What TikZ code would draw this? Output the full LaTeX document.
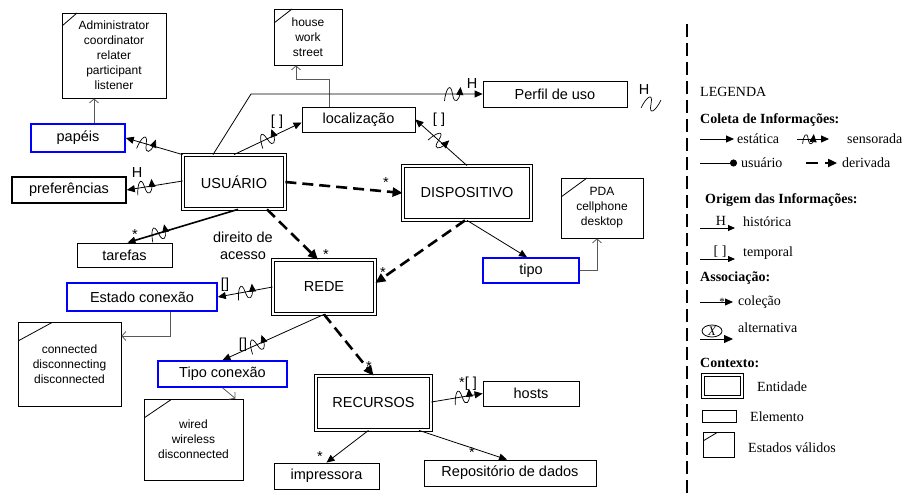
\documentclass[tikz,border=0pt]{standalone}
\usepackage{fontspec}
\setmainfont{Liberation Serif}
\setsansfont{Liberation Sans}
\usetikzlibrary{arrows.meta}
\tikzset{
semithick, % thin connectors everywhere
>={Triangle[length=8pt,width=7pt]},
my font/.style={font=\sffamily\fontsize{14.5}{17}\selectfont},
my small/.style={font=\sffamily\fontsize{12}{15}\selectfont},
elem/.style={draw,my font,inner sep=0pt,line width=0.8pt},
hi/.style={draw=blue,line width=1.6pt},
heavy/.style={line width=1.6pt},
entity/.style={draw,double,double distance=2pt,line width=0.8pt,my font,inner sep=0pt},
state/.style={draw,my small,align=center,inner sep=0pt,line width=0.8pt},
tag/.style 2 args={path picture={\draw[line width=0.8pt]
  ([yshift=-#2]path picture bounding box.north west) --
  ([xshift=#1]path picture bounding box.north west);}},
link/.style={->,line width=0.8pt},
strong/.style={->,line width=1.6pt},
derived/.style={-{Triangle[length=10pt,width=9pt]},line width=2.6pt,dash pattern=on 11pt off 6pt},
stlink/.style={-{Straight Barb[length=4pt,width=9pt]},line width=0.8pt,black!65},
squig/.pic={\draw[line width=0.7pt] (-8,7) .. controls (-7,-4) and (-2,-13) .. (0,0)
  .. controls (2,13) and (7,4) .. (8,-7);},
lbl/.style={my font,inner sep=0pt},
leg/.style={font=\fontsize{14}{16}\selectfont,anchor=west,inner sep=0pt},
leghead/.style={leg,font=\bfseries\fontsize{14}{16}\selectfont},
}
\begin{document}
\begin{tikzpicture}[x=1pt,y=-1pt]
\useasboundingbox (0,0) rectangle (905,497);
% entities
\node[entity,minimum width=102,minimum height=54] (usuario) at (234,182) {USUÁRIO};
\node[entity,minimum width=128,minimum height=54] (disp) at (467,193) {DISPOSITIVO};
\node[entity,minimum width=102,minimum height=54] (rede) at (324,287) {REDE};
\node[entity,minimum width=115,minimum height=54] (recursos) at (373.5,403) {RECURSOS};
% elements
\node[elem,hi,minimum width=94,minimum height=28] (papeis) at (78,138) {papéis};
\node[elem,heavy,minimum width=114,minimum height=26] (prefs) at (69,190) {preferências};
\node[elem,minimum width=95,minimum height=24] (tarefas) at (124.5,255) {tarefas};
\node[elem,minimum width=113,minimum height=25] (local) at (358.5,119.5) {localização};
\node[elem,minimum width=144,minimum height=26] (perfil) at (555,94) {Perfil de uso};
\node[elem,hi,minimum width=96,minimum height=25] (tipo) at (531,270.5) {tipo};
\node[elem,hi,minimum width=150,minimum height=28] (estado) at (142,297) {Estado conexão};
\node[elem,hi,minimum width=129,minimum height=26] (tipocon) at (222.5,374) {Tipo conexão};
\node[elem,minimum width=96,minimum height=25] (hosts) at (531,393.5) {hosts};
\node[elem,minimum width=105,minimum height=26] (impr) at (326.5,476) {impressora};
\node[elem,minimum width=172,minimum height=26] (repo) at (510,473) {Repositório de dados};
% valid states
\node[state,tag={15pt}{13pt},minimum width=104,minimum height=85] (admin) at (114,55.5)
  {Administrator\\coordinator\\relater\\participant\\listener};
\node[state,tag={18pt}{14pt},minimum width=68,minimum height=56] (house) at (308,37) {house\\work\\street};
\node[state,tag={26pt}{19pt},minimum width=82,minimum height=60] (pda) at (602,208) {PDA\\cellphone\\desktop};
\node[state,tag={35pt}{19pt},minimum width=103,minimum height=84] (conn) at (69.5,364)
  {connected\\disconnecting\\disconnected};
\node[state,tag={28pt}{19pt},minimum width=99,minimum height=81] (wired) at (193.5,439.5)
  {wired\\wireless\\disconnected};
% links to valid states
\draw[stlink] ([xshift=16pt]papeis.north) -- ([xshift=16pt]papeis.north |- admin.south);
\draw[stlink] ([xshift=-29pt]local.north) -- ++(0,-27) -| ([xshift=-12pt]house.south);
\draw[stlink] (tipo.east) -| ([xshift=-5pt]pda.south);
\draw[stlink] ([xshift=28pt]estado.south) |- ([yshift=28pt]conn.east);
\draw[stlink] (tipocon.south) -- ([xshift=42pt]wired.north);
% sensed links
\coordinate (bend) at (251,94);
\draw[link] ([xshift=-21pt]usuario.north) -- (bend) -- (perfil.west) pic[pos=0.87,sloped]{squig};
\draw[link] (usuario.north west) -- (papeis.east) pic[pos=0.64,sloped]{squig};
\draw[link] ([yshift=1pt]usuario.west) -- (prefs.east) pic[pos=0.68,sloped]{squig};
\draw[strong] ([xshift=4pt]usuario.south) -- ([xshift=3pt]tarefas.north) pic[pos=0.72,sloped]{squig};
\draw[link] (usuario.north) -- ([yshift=-3pt]local.west) pic[pos=0.49,sloped]{squig};
\draw[link] (disp.north) -- (local.east) pic[pos=0.55,sloped]{squig};
\draw[link] (rede.west) -- (estado.east) pic[pos=0.5,sloped]{squig};
\draw[link] (rede.south) -- (tipocon.north) pic[pos=0.66,sloped]{squig};
\draw[link] ([yshift=1pt]recursos.east) -- (hosts.west) pic[pos=0.6,sloped]{squig};
% static links
\draw[link] (disp.south) -- ([xshift=-4pt]tipo.north);
\draw[link] ([xshift=-5pt]recursos.south) -- (impr.north);
\draw[link] ([xshift=45.5pt]recursos.south) -- ([xshift=-3pt]repo.north);
% derived links
\draw[derived] (usuario.east) -- (disp.west);
\draw[derived] ([xshift=33pt]usuario.south) -- ([xshift=-6pt]rede.north);
\draw[derived] ([xshift=-2pt]disp.south) -- ([yshift=4pt]rede.east);
\draw[derived] (rede.south) -- (recursos.north);
% labels
\node[lbl] (hpref) at (137,173) {H};
\node[lbl] (starta) at (135,235) {*};
\node[lbl] (tloc) at (277,122) {[ ]};
\node[lbl] (hperf) at (472,84) {H};
\node[lbl] (tdisp) at (439,120) {[ ]};
\node[lbl] (stdisp) at (386,183) {*};
\node[lbl] (strede) at (326,255) {*};
\node[lbl] (strede2) at (383,273) {*};
\node[lbl] (testado) at (225,285) {[]};
\node[lbl] (ttipo) at (243,345) {[]};
\node[lbl] (strec) at (369,367) {*};
\node[lbl] (thosts) at (468,384) {*[ ]};
\node[lbl] (stimpr) at (320,457) {*};
\node[lbl] (strepo) at (472,453) {*};
\node[lbl,align=center] (direito) at (243,246) {direito de\\acesso};
\node[lbl] (hstray) at (644,90) {H};
\pic[rotate=-20] at (651,104) {squig};
% legend
\draw[line width=2.5pt,dash pattern=on 13pt off 6pt] (687,24) -- (687,495);
\node[leg] (legenda) at (700,92) {LEGENDA};
\node[leghead] (coleta) at (700,120) {Coleta de Informações:};
\node[leg] (estat) at (737,139) {estática};
\draw[link] ([xshift=-37pt]estat.west) -- ([xshift=-3pt]estat.west);
\node[leg] (sens) at (847,139) {sensorada};
\draw[link] ([xshift=-50pt]sens.west) -- ([xshift=-18pt]sens.west) pic[pos=0.35,sloped,scale=0.7]{squig};
\node[leg] (usu) at (741,163) {usuário};
\draw[-{Circle[length=7pt]},line width=0.8pt] ([xshift=-41pt]usu.west) -- ([xshift=-4pt]usu.west);
\node[leg] (deriv) at (842,163) {derivada};
\draw[-{Triangle[length=9pt,width=8pt]},line width=2.6pt,dash pattern=on 12pt off 7pt]
  ([xshift=-36pt]deriv.west) -- ([xshift=-5pt]deriv.west);
\node[leghead] (origem) at (705,200) {Origem das Informações:};
\node[leg] (hist) at (743,222) {histórica};
\draw[-{Triangle[length=7pt,width=6pt]},line width=0.8pt] (700,228) -- (735,228);
\node[leg,anchor=center] (hleg) at (721,221) {H};
\node[leg] (temp) at (743,253) {temporal};
\draw[-{Triangle[length=7pt,width=6pt]},line width=0.8pt] (700,259) -- (735,259);
\node[leg,anchor=center] (tleg) at (720,252) {[ ]};
\node[leghead] (assoc) at (700,278) {Associação:};
\node[leg] (colec) at (738,302) {coleção};
\draw[-{Triangle[length=8pt,width=7pt]},line width=0.8pt] (700,302) -- (733,302);
\node[leg,anchor=center,font=\fontsize{11}{12}\selectfont] (sleg) at (722,302) {*};
\node[leg] (alt) at (738,328) {alternativa};
\draw[line width=0.8pt] (712,331) ellipse (10 and 6);
\node[leg,anchor=center,font=\itshape\fontsize{13}{14}\selectfont] (xleg) at (712,331) {X};
\draw[-{Triangle[length=9pt,width=8pt]},line width=0.8pt] (700,339) -- (733,339);
\node[leghead] (contexto) at (700,363) {Contexto:};
\node[draw,double,double distance=2pt,line width=1pt,minimum width=39,minimum height=22,inner sep=0pt] (legent) at (722.5,386) {};
\node[leg] (entid) at (757,387) {Entidade};
\node[draw,line width=0.8pt,minimum width=34,minimum height=12,inner sep=0pt] (legel) at (719,416) {};
\node[leg] (elemen) at (750,417) {Elemento};
\node[draw,line width=0.8pt,tag={15pt}{9pt},minimum width=31,minimum height=25,inner sep=0pt] (legst) at (718.5,444.5) {};
\node[leg] (estv) at (748,448) {Estados válidos};
\end{tikzpicture}
\end{document}
